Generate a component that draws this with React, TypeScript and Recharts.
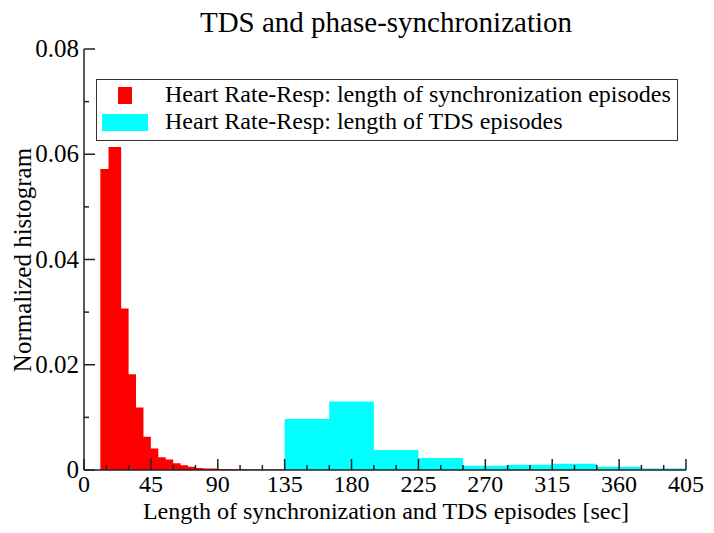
import { ComposedChart, Area, XAxis, YAxis } from 'recharts'

// histogram bin edges (sec) and normalized heights
const syncEdges = [11, 16.5, 25, 30, 35, 40, 45, 50, 55, 60, 65, 70, 75, 80, 85, 90, 95, 100, 105, 110, 115, 120, 125, 130, 135]
const syncValues = [
  0.0572, 0.0614, 0.0307, 0.0182, 0.0119, 0.0063, 0.0041, 0.0024, 0.002, 0.0013, 0.0009, 0.0006,
  0.0004, 0.0003, 0.0003, 0.0002, 0.0002, 0.00015, 0.00015, 0.0001, 0.0001, 0.0001, 0.0001, 0.0001,
]
const tdsEdges = [135, 165, 195, 225, 255, 285, 315, 345, 375, 405]
const tdsValues = [0.0097, 0.013, 0.0038, 0.0023, 0.0008, 0.001, 0.0012, 0.0006, 0.0003]

const xTicks = [0, 15, 30, 45, 60, 75, 90, 105, 120, 135, 150, 165, 180, 195, 210, 225, 240, 255, 270, 285, 300, 315, 330, 345, 360, 375, 390, 405]
const yTicks = [0, 0.01, 0.02, 0.03, 0.04, 0.05, 0.06, 0.07, 0.08]

const FONT = '"Liberation Serif", "Times New Roman", serif'
const AXIS = '#222'

// merge both step series into one table keyed by x
function buildRows() {
  const rows: Record<number, { x: number; sync?: number; tds?: number }> = {}
  syncEdges.forEach((x, i) => {
    rows[x] = { ...(rows[x] || { x }), sync: syncValues[Math.min(i, syncValues.length - 1)] }
  })
  tdsEdges.forEach((x, i) => {
    rows[x] = { ...(rows[x] || { x }), tds: tdsValues[Math.min(i, tdsValues.length - 1)] }
  })
  return Object.values(rows).sort((a, b) => a.x - b.x)
}

const data = buildRows()

const BottomTick = ({ x, y, payload }: any) => {
  const major = payload.value % 45 === 0
  return (
    <g>
      <line x1={x} y1={y} x2={x} y2={y - (major ? 11 : 5)} stroke={AXIS} strokeWidth={1.5} />
      {major && (
        <text x={x} y={y + 22} textAnchor="middle" fontFamily={FONT} fontSize={24} fill="#000">
          {payload.value}
        </text>
      )}
    </g>
  )
}

const TopTick = ({ x, y, payload }: any) => {
  const major = payload.value % 45 === 0
  return <line x1={x} y1={y} x2={x} y2={y + (major ? 11 : 5)} stroke={AXIS} strokeWidth={1.5} />
}

const LeftTick = ({ x, y, payload }: any) => {
  const major = Math.round(payload.value * 100) % 2 === 0
  return (
    <g>
      <line x1={x} y1={y} x2={x + (major ? 11 : 5)} y2={y} stroke={AXIS} strokeWidth={1.5} />
      {major && (
        <text x={x - 5} y={y + 8} textAnchor="end" fontFamily={FONT} fontSize={25} fill="#000">
          {payload.value === 0 ? '0' : payload.value.toFixed(2)}
        </text>
      )}
    </g>
  )
}

const RightTick = ({ x, y, payload }: any) => {
  const major = Math.round(payload.value * 100) % 2 === 0
  return <line x1={x} y1={y} x2={x - (major ? 11 : 5)} y2={y} stroke={AXIS} strokeWidth={1.5} />
}

export default function App() {
  return (
    <div style={{ position: 'absolute', left: 0, top: 0, width: 714, height: 533, background: '#fff' }}>
      <ComposedChart width={714} height={533} data={data} margin={{ top: 49, right: 28, bottom: 8, left: 9 }}>
        <XAxis
          xAxisId="b"
          dataKey="x"
          type="number"
          domain={[0, 405]}
          ticks={xTicks}
          interval={0}
          allowDataOverflow
          tick={<BottomTick />}
          tickLine={false}
          tickSize={0}
          tickMargin={0}
          height={55}
          axisLine={{ stroke: AXIS, strokeWidth: 1.5 }}
        />
        <XAxis
          xAxisId="t"
          orientation="top"
          dataKey="x"
          type="number"
          domain={[0, 405]}
          ticks={xTicks}
          interval={0}
          allowDataOverflow
          tick={<TopTick />}
          tickLine={false}
          tickSize={0}
          tickMargin={0}
          height={0}
          axisLine={{ stroke: AXIS, strokeWidth: 1.5 }}
        />
        <YAxis
          yAxisId="l"
          type="number"
          domain={[0, 0.08]}
          ticks={yTicks}
          interval={0}
          allowDataOverflow
          tick={<LeftTick />}
          tickLine={false}
          tickSize={0}
          tickMargin={0}
          width={75}
          axisLine={{ stroke: AXIS, strokeWidth: 1.5 }}
        />
        <YAxis
          yAxisId="r"
          orientation="right"
          type="number"
          domain={[0, 0.08]}
          ticks={yTicks}
          interval={0}
          allowDataOverflow
          tick={<RightTick />}
          tickLine={false}
          tickSize={0}
          tickMargin={0}
          width={0}
          axisLine={{ stroke: AXIS, strokeWidth: 1.5 }}
        />
        <Area
          xAxisId="b"
          yAxisId="l"
          type="stepAfter"
          dataKey="sync"
          fill="#ff0000"
          fillOpacity={1}
          stroke="none"
          dot={false}
          activeDot={false}
          isAnimationActive={false}
        />
        <Area
          xAxisId="b"
          yAxisId="l"
          type="stepAfter"
          dataKey="tds"
          fill="#00ffff"
          fillOpacity={1}
          stroke="none"
          dot={false}
          activeDot={false}
          isAnimationActive={false}
        />
      </ComposedChart>

      {/* title, axis labels and legend */}
      <svg width={714} height={533} style={{ position: 'absolute', left: 0, top: 0, pointerEvents: 'none' }}>
        <text x={386} y={32} textAnchor="middle" fontFamily={FONT} fontSize={29} fill="#000">
          TDS and phase-synchronization
        </text>
        <text x={386} y={519} textAnchor="middle" fontFamily={FONT} fontSize={24} fill="#000">
          Length of synchronization and TDS episodes [sec]
        </text>
        <text x={31} y={260} transform="rotate(-90, 31, 260)" textAnchor="middle" fontFamily={FONT} fontSize={25} fill="#000">
          Normalized histogram
        </text>
        <rect x={96.5} y={79.5} width={581} height={61} fill="#fff" stroke="#333" strokeWidth={1} />
        <rect x={118} y={87} width={14} height={17} fill="#ff0000" />
        <rect x={102} y={114} width={46} height={17} fill="#00ffff" />
        <text x={165} y={102} fontFamily={FONT} fontSize={24} fill="#000">
          Heart Rate-Resp: length of synchronization episodes
        </text>
        <text x={165} y={129} fontFamily={FONT} fontSize={24} fill="#000">
          Heart Rate-Resp: length of TDS episodes
        </text>
      </svg>
    </div>
  )
}
